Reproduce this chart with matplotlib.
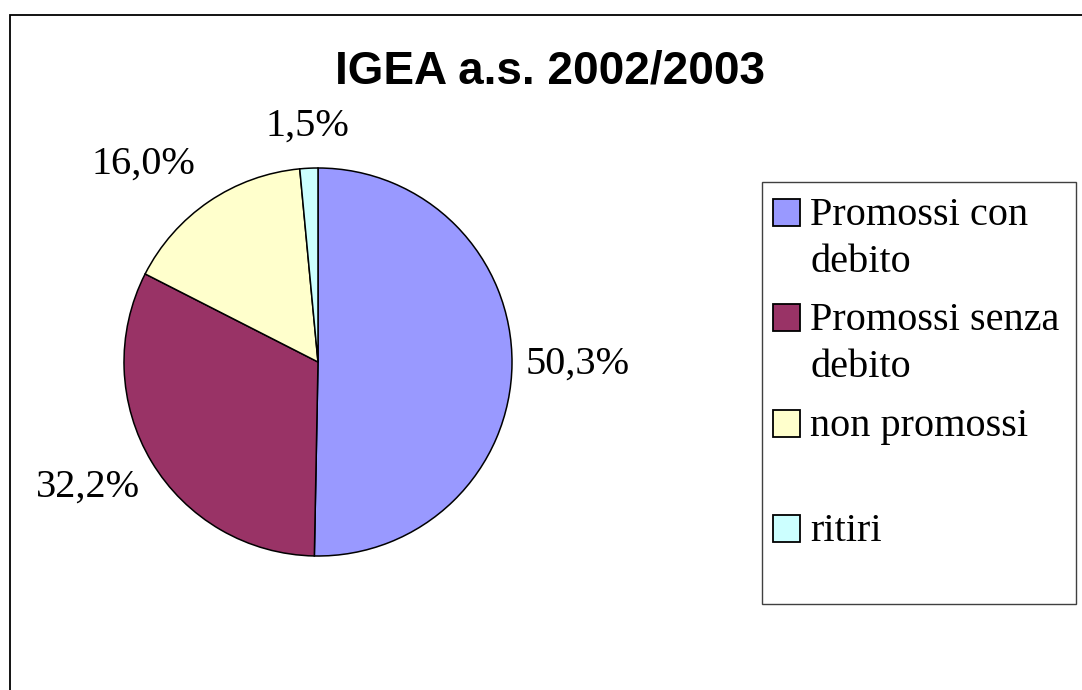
import textwrap

import numpy as np
import matplotlib
matplotlib.use("Agg")
import matplotlib.pyplot as plt
from matplotlib.patches import Rectangle

W, H = 1082, 690

title = "IGEA a.s. 2002/2003"
categories = ["Promossi con debito", "Promossi senza debito", "non promossi", "ritiri"]
values = [50.3, 32.2, 16.0, 1.5]
value_labels = ["50,3%", "32,2%", "16,0%", "1,5%"]
colors = ["#9999FF", "#993366", "#FFFFCC", "#CCFFFF"]

SERIF = ["Liberation Serif", "DejaVu Serif"]
SANS = ["Liberation Sans", "DejaVu Sans"]


def px(x, y):
    """pixel (from top-left) -> figure fraction"""
    return x / W, 1 - y / H


fig = plt.figure(figsize=(W / 100, H / 100), dpi=100)
fig.patch.set_facecolor("white")

# chart area border (only left/top visible, the rest is cropped)
fx, fy = px(10, 15)
fig.patches.append(Rectangle((fx, -0.2), 1.5, fy + 0.2, transform=fig.transFigure,
                             fill=False, edgecolor="black", lw=1.3))

tx, ty = px(550, 83)
fig.text(tx, ty, title, ha="center", va="baseline", fontsize=33,
         fontweight="bold", family=SANS)

# pie: centre (318, 362), radius 194 px
cx, cy, r = 318, 362, 194
x0, y0 = px(cx - r, cy + r)
ax = fig.add_axes([x0, y0, 2 * r / W, 2 * r / H])
wedges, _ = ax.pie(values, colors=colors, startangle=90, counterclock=False,
                   wedgeprops=dict(edgecolor="black", linewidth=1.1))
ax.set_xlim(-1, 1)
ax.set_ylim(-1, 1)
ax.set_aspect("equal")
ax.axis("off")

# labels outside the slices, like Excel "best fit"
for w, lab in zip(wedges, value_labels):
    th = np.deg2rad((w.theta1 + w.theta2) / 2)
    c, s = np.cos(th), np.sin(th)
    ha = "center" if abs(c) < 0.3 else ("left" if c > 0 else "right")
    va = "bottom" if s > 0.3 else ("top" if s < -0.3 else "center")
    d = 1.12 if va == "bottom" else 1.07
    ax.text(d * c, d * s, lab, ha=ha, va=va, fontsize=29,
            family=SERIF, clip_on=False)

# legend box drawn Excel-style: equal slots, marker aligned with first line
lx0, ly0 = px(762, 604)
lx1, ly1 = px(1076, 182)
fig.patches.append(Rectangle((lx0, ly0), lx1 - lx0, ly1 - ly0, transform=fig.transFigure,
                             fill=False, edgecolor="#404040", lw=1.0))
slot, line_h, size = 105.3, 47, 27
for i, (cat, col) in enumerate(zip(categories, colors)):
    top = 199 + i * slot
    mx, my = px(773, top + size)
    fig.patches.append(Rectangle((mx, my), size / W, size / H, transform=fig.transFigure,
                                 facecolor=col, edgecolor="black", lw=1.3))
    for k, line in enumerate(textwrap.wrap(cat, 14)):
        tx, ty = px(810, top + size - 1 + k * line_h)
        fig.text(tx, ty, line, ha="left", va="baseline", fontsize=29, family=SERIF)

fig.savefig("out.png", dpi=100)
